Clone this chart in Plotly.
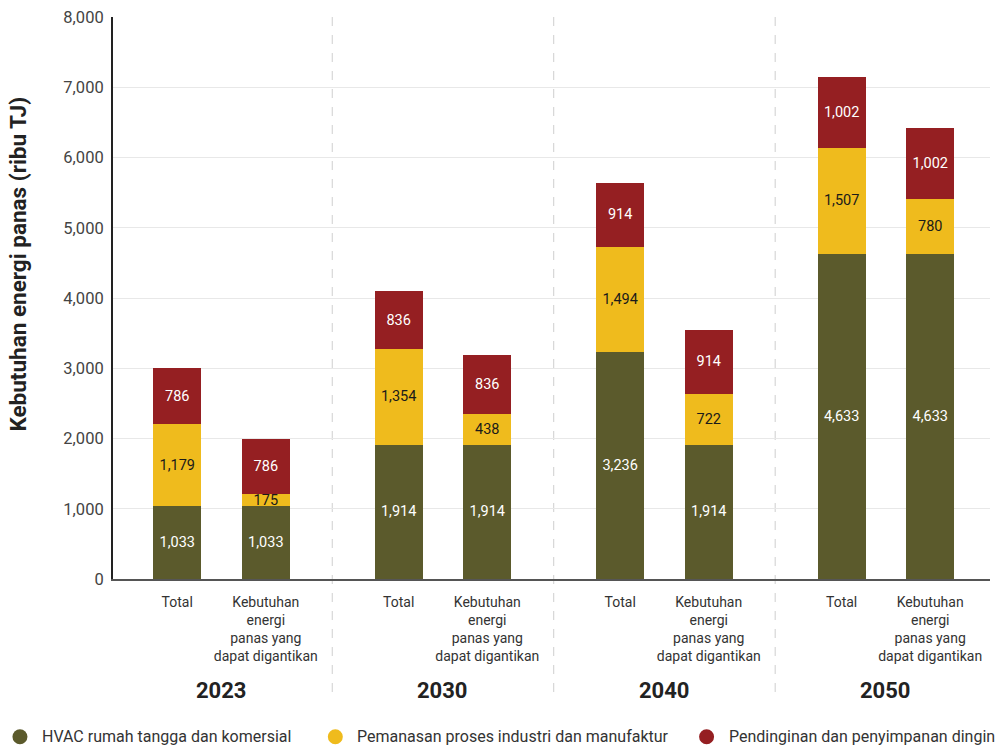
import plotly.graph_objects as go

# Heat demand (thousand TJ) by sector, per year: Total vs replaceable demand
years = ["2023", "2030", "2040", "2050"]
bar_kinds = ["Total", "Kebutuhan<br>energi<br>panas yang<br>dapat digantikan"]

hvac = [1033, 1033, 1914, 1914, 3236, 1914, 4633, 4633]
proses = [1179, 175, 1354, 438, 1494, 722, 1507, 780]
dingin = [786, 786, 836, 836, 914, 914, 1002, 1002]

series_names = [
    "HVAC rumah tangga dan komersial",
    "Pemanasan proses industri dan manufaktur",
    "Pendinginan dan penyimpanan dingin",
]
series_values = [hvac, proses, dingin]
colors = ["#5b5a2c", "#efbb1d", "#951f22"]
text_colors = ["#ffffff", "#1a1a1a", "#ffffff"]

FONT = "Roboto"
OFFSET = 0.2
BAR_W = 0.217

x_pos = []
x_text = []
for gi, _ in enumerate(years):
    for ki, kind in enumerate(bar_kinds):
        x_pos.append(gi + (-OFFSET if ki == 0 else OFFSET))
        x_text.append(kind)

fig = go.Figure()

for name, vals, col, tcol in zip(series_names, series_values, colors, text_colors):
    fig.add_trace(go.Bar(
        x=x_pos, y=vals, width=[BAR_W] * len(vals), name=name,
        marker=dict(color=col, line=dict(width=0)),
        texttemplate="%{y:,}", textposition="inside",
        insidetextanchor="middle",
        textfont=dict(color=tcol, size=14.5, family=FONT),
        showlegend=False, hoverinfo="skip",
    ))

# dashed separators between year groups
for b in range(len(years) - 1):
    fig.add_shape(type="line", xref="x", yref="paper",
                  x0=b + 0.5, x1=b + 0.5, y0=1.0, y1=-0.215,
                  line=dict(color="#cfcfcf", width=1, dash="dash"),
                  layer="below")

# year labels under each group
for gi, yr in enumerate(years):
    fig.add_annotation(x=gi, y=-0.198, xref="x", yref="paper",
                       text=f"<b>{yr}</b>", showarrow=False,
                       font=dict(size=22, color="#222222", family=FONT),
                       xanchor="center", yanchor="middle")

# legend row along the bottom: round swatch + label
legend_x = [0.020, 0.336, 0.708]   # fraction of figure width
LEG_Y = 0.011                     # fraction of figure height
for name, col, lx in zip(series_names, colors, legend_x):
    fig.add_shape(type="circle", xref="paper", yref="paper",
                  xsizemode="pixel", ysizemode="pixel",
                  xanchor=(lx * 998 - 113) / 877,
                  yanchor=(LEG_Y * 745 - 166) / 562,
                  x0=-7.5, x1=7.5, y0=-7.5, y1=7.5,
                  fillcolor=col, line=dict(width=0))
    fig.add_annotation(x=(lx * 998 - 113 + 20) / 877,
                       y=(LEG_Y * 745 - 166) / 562,
                       xref="paper", yref="paper", text=name,
                       showarrow=False, xanchor="left", yanchor="middle",
                       font=dict(size=16, color="#333333", family=FONT))

fig.add_annotation(x=-0.108, y=0.56, xref="paper", yref="paper",
                   text="<b>Kebutuhan energi panas (ribu TJ)</b>",
                   textangle=-90, showarrow=False,
                   font=dict(size=22.5, color="#222222", family=FONT),
                   xanchor="center", yanchor="middle")

fig.update_layout(
    barmode="stack",
    width=998, height=745,
    margin=dict(l=113, r=8, t=17, b=166),
    paper_bgcolor="white", plot_bgcolor="white",
    font=dict(family=FONT, color="#333333"),
    uniformtext=dict(minsize=14.5, mode="show"),
    showlegend=False,
    xaxis=dict(
        range=[-0.49, 3.47],
        tickmode="array", tickvals=x_pos, ticktext=x_text,
        tickfont=dict(size=14, color="#333333", family=FONT),
        ticks="", showgrid=False, zeroline=False, ticklabelstandoff=9,
        showline=True, linecolor="#555555", linewidth=1.5,
    ),
    yaxis=dict(
        range=[0, 8000], tickvals=list(range(0, 8001, 1000)),
        tickformat=",d",
        tickfont=dict(size=16.5, color="#444444", family=FONT),
        showgrid=True, gridcolor="#e8e8e8", gridwidth=1,
        zeroline=False, showline=True, linecolor="#222222", linewidth=2,
        ticks="", ticklabelstandoff=4,
    ),
)

fig.write_html("out.html")
